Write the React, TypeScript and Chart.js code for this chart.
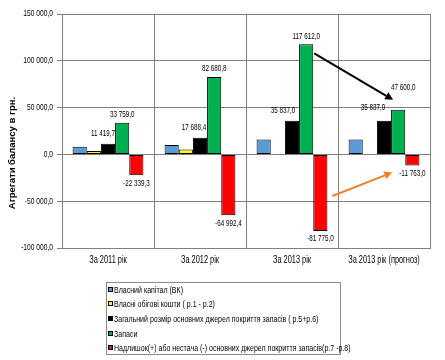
import React, { useEffect, useRef } from 'react';
import { Chart, registerables } from 'chart.js';

Chart.register(...registerables);

const categories = ['За 2011 рік', 'За 2012 рік', 'За 2013 рік', 'За 2013 рік (прогноз)'];
const seriesNames = [
  'Власний капітал (ВК)',
  'Власні обігові кошти ( р.1 - р.2)',
  'Загальний розмір основних джерел покриття запасів ( р.5+р.6)',
  'Запаси',
  'Надлишок(+) або нестача (-) основних джерел покриття запасів(р.7 -р.8)',
];
const equity = [8100, 10000, 16000, 16000];
const ownWorkingCapital = [3500, 5300, 300, 300];
const totalSources = [11419.7, 17688.4, 35837.0, 35837.0];
const inventory = [33759.0, 82680.8, 117612.0, 47600.0];
const surplus = [-22339.3, -64992.4, -81775.0, -11763.0];
const yTicks = [-100000, -50000, 0, 50000, 100000, 150000];
const yTitle = 'Агрегати балансу в грн.';

const colors = ['#5B9BD5', '#FFFF00', '#000000', '#00B050', '#FF0000'];
const labelledSeries = [2, 3, 4];
const labelShift: Record<string, [number, number]> = {
  '2-0': [-5, -2],
  '2-1': [-6, -2],
  '2-2': [-9, -2],
  '2-3': [-11, -5],
  '3-3': [5, -14],
};

const SANS = '"Liberation Sans", Arial, sans-serif';
const SQUEEZE = 0.74;

function fmt(v: number): string {
  const neg = v < 0;
  const s = Math.abs(v).toFixed(1);
  const [i, d] = s.split('.');
  const grouped = i.replace(/\B(?=(\d{3})+(?!\d))/g, ' ');
  return (neg ? '-' : '') + grouped + ',' + d;
}

function narrow(ctx: CanvasRenderingContext2D, text: string, x: number, y: number, align: CanvasTextAlign, size: number, color = '#000') {
  ctx.save();
  ctx.translate(x, y);
  ctx.scale(SQUEEZE, 1);
  ctx.font = size + 'px ' + SANS;
  ctx.fillStyle = color;
  ctx.textAlign = align;
  ctx.textBaseline = 'middle';
  ctx.fillText(text, 0, 0);
  ctx.restore();
}

function arrow(ctx: CanvasRenderingContext2D, x1: number, y1: number, x2: number, y2: number, color: string) {
  const ang = Math.atan2(y2 - y1, x2 - x1);
  const hl = 8, hw = 4;
  const bx = x2 - hl * Math.cos(ang), by = y2 - hl * Math.sin(ang);
  ctx.save();
  ctx.strokeStyle = color;
  ctx.fillStyle = color;
  ctx.lineWidth = 2;
  ctx.beginPath();
  ctx.moveTo(x1, y1);
  ctx.lineTo(bx, by);
  ctx.stroke();
  ctx.beginPath();
  ctx.moveTo(x2, y2);
  ctx.lineTo(bx + hw * Math.sin(ang), by - hw * Math.cos(ang));
  ctx.lineTo(bx - hw * Math.sin(ang), by + hw * Math.cos(ang));
  ctx.closePath();
  ctx.fill();
  ctx.restore();
}

const extrasPlugin = {
  id: 'extras',
  afterDatasetsDraw(chart: any) {
    const ctx: CanvasRenderingContext2D = chart.ctx;
    labelledSeries.forEach((di) => {
      const meta = chart.getDatasetMeta(di);
      const data = chart.data.datasets[di].data as number[];
      meta.data.forEach((el: any, i: number) => {
        const v = data[i];
        const sh = labelShift[di + '-' + i] || [0, 0];
        const y = v >= 0 ? el.y - 8 : el.y + 8;
        narrow(ctx, fmt(v), el.x + sh[0], y + sh[1], 'center', 8.5);
      });
    });

    const g = chart.getDatasetMeta(3).data;
    const r = chart.getDatasetMeta(4).data;
    const ga = g[2], gb = g[3];
    arrow(ctx, ga.x + ga.width / 2 + 1, ga.y + 9, gb.x - 5, gb.y - 10, '#000000');
    const ra = r[2], rb = r[3];
    arrow(ctx, ra.x + ra.width / 2 + 5, ra.base + (ra.y - ra.base) * 0.54, rb.x - rb.width / 2 - 13, rb.y + 7, '#F0802E');
  },
  afterDraw(chart: any) {
    const ctx: CanvasRenderingContext2D = chart.ctx;
    const area = chart.chartArea;
    const xs = chart.scales.x;
    const ys = chart.scales.y;

    // axis tick labels
    yTicks.forEach((v) => {
      narrow(ctx, fmt(v), 53, ys.getPixelForValue(v), 'right', 9);
    });
    categories.forEach((c, i) => {
      narrow(ctx, c, xs.getPixelForValue(i), area.bottom + 12, 'center', 10);
    });

    // y title
    ctx.save();
    ctx.translate(12, (area.top + area.bottom) / 2 + 22);
    ctx.rotate(-Math.PI / 2);
    ctx.font = 'bold 9.5px ' + SANS;
    ctx.fillStyle = '#000';
    ctx.textAlign = 'center';
    ctx.textBaseline = 'middle';
    ctx.fillText(yTitle, 0, 0);
    ctx.restore();

    // legend
    const bx = 106, by = 282, bw = 234, bh = 72;
    ctx.save();
    ctx.strokeStyle = '#8c8c8c';
    ctx.lineWidth = 1;
    ctx.strokeRect(bx + 0.5, by + 0.5, bw, bh);
    chart.data.datasets.forEach((ds: any, i: number) => {
      const cy = Math.round(by + 7.5 + i * 14.7);
      ctx.fillStyle = ds.backgroundColor;
      ctx.fillRect(bx + 2.5, cy - 2.5, 4, 4);
      ctx.strokeStyle = '#000';
      ctx.strokeRect(bx + 2.5, cy - 2.5, 4, 4);
      narrow(ctx, ds.label, bx + 8, cy, 'left', 9.5);
    });
    ctx.restore();
  },
};

export default function App() {
  const ref = useRef<HTMLCanvasElement | null>(null);
  useEffect(() => {
    document.body.style.margin = '0';
    if (!ref.current) return;
    const series = [equity, ownWorkingCapital, totalSources, inventory, surplus];
    const chart = new Chart(ref.current, {
      type: 'bar',
      data: {
        labels: categories,
        datasets: series.map((d, i) => ({
          label: seriesNames[i],
          data: d,
          backgroundColor: colors[i],
          borderColor: '#000000',
          borderWidth: 1,
          borderSkipped: false,
          categoryPercentage: 0.77,
          barPercentage: 1.0,
        })),
      },
      options: {
        responsive: false,
        animation: false,
        devicePixelRatio: 1,
        layout: { padding: { left: 0, right: 15, top: 14, bottom: 0 } },
        plugins: { legend: { display: false }, tooltip: { enabled: false } },
        scales: {
          x: {
            grid: { color: '#808080', drawTicks: false, offset: true },
            border: { color: '#808080' },
            ticks: { display: false },
            afterFit: (s: any) => { s.height = 112; },
          },
          y: {
            min: -100000,
            max: 150000,
            afterBuildTicks: (s: any) => { s.ticks = yTicks.map((v) => ({ value: v })); },
            ticks: { display: false },
            grid: { color: '#808080', tickLength: 5 },
            border: { color: '#808080' },
            afterFit: (s: any) => { s.width = 62; },
          },
        },
      },
      plugins: [extrasPlugin],
    });
    return () => chart.destroy();
  }, []);
  return (
    <div style={{ width: 445, height: 360, background: '#fff' }}>
      <canvas ref={ref} width={445} height={360} style={{ width: 445, height: 360, display: 'block' }} />
    </div>
  );
}
